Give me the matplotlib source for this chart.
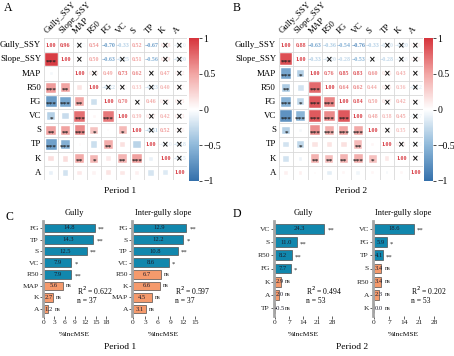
import numpy as np
import matplotlib
matplotlib.use("Agg")
import matplotlib.pyplot as plt
from matplotlib.colors import LinearSegmentedColormap, Normalize
from matplotlib.patches import Rectangle
import matplotlib.cm as cm

plt.rcParams['font.family'] = ['Liberation Serif', 'DejaVu Sans']

W, H = 454, 356

variables = ["Gully_SSY", "Slope_SSY", "MAP", "R50", "FG", "VC", "S", "TP", "K", "A"]

# lower triangle of the correlation matrices, row by row
r_p1 = [
    [0.96],
    [-0.05, 0.02],
    [0.54, 0.50, 0.15],
    [-0.70, -0.63, 0.49, -0.22],
    [-0.33, -0.25, 0.73, 0.05, 0.70],
    [0.52, 0.51, 0.62, 0.33, 0.03, 0.39],
    [-0.67, -0.56, 0.03, -0.23, 0.46, 0.17, -0.31],
    [0.18, 0.19, 0.47, 0.40, 0.12, 0.42, 0.52, -0.10],
    [-0.10, -0.20, 0.12, 0.07, 0.15, 0.13, 0.08, -0.18, -0.15],
]
sig_p1 = [
    ["***"],
    ["", ""],
    ["***", "**", ""],
    ["***", "***", "**", ""],
    ["*", "", "***", "", "***"],
    ["**", "**", "***", "*", "", "*"],
    ["***", "***", "", "", "**", "", ""],
    ["", "", "**", "*", "", "**", "***", ""],
    ["", "", "", "", "", "", "", "", ""],
]

r_p2 = [
    [0.88],
    [-0.63, -0.33],
    [-0.36, -0.20, 0.76],
    [-0.54, -0.28, 0.85, 0.64],
    [-0.76, -0.53, 0.83, 0.62, 0.84],
    [-0.33, -0.05, 0.60, 0.44, 0.50, 0.48],
    [-0.20, -0.28, 0.15, 0.15, 0.17, 0.38, 0.05],
    [-0.20, -0.08, 0.43, 0.36, 0.42, 0.45, 0.35, 0.13],
    [0.08, 0.08, 0.03, -0.12, 0.05, -0.07, 0.05, -0.05, 0.05],
]
sig_p2 = [
    ["***"],
    ["***", "*"],
    ["**", "", "***"],
    ["***", "*", "***", "***"],
    ["***", "***", "***", "***", "***"],
    ["*", "", "***", "***", "***", "***"],
    ["", "*", "", "", "", "**", ""],
    ["", "", "**", "**", "**", "***", "*", ""],
    ["", "", "", "", "", "", "", "", ""],
]

# random forest importance (%IncMSE)
c_gully_names = ["FG", "TP", "S", "VC", "R50", "MAP", "K", "A"]
c_gully_vals = [14.8, 14.3, 12.5, 7.9, 7.9, 5.6, 2.7, 1.2]
c_gully_sig = ["**", "**", "**", "*", "**", "ns", "ns", "ns"]

c_slope_names = ["FG", "S", "TP", "VC", "R50", "K", "MAP", "A"]
c_slope_vals = [12.9, 12.2, 10.8, 8.6, 6.7, 6.6, 4.5, 3.1]
c_slope_sig = ["**", "*", "**", "*", "ns", "ns", "ns", "ns"]

d_gully_names = ["VC", "S", "R50", "FG", "K", "A", "TP"]
d_gully_vals = [24.3, 11.0, 8.2, 7.7, 2.9, 2.0, -0.5]
d_gully_sig = ["**", "**", "**", "*", "ns", "ns", "ns"]

d_slope_names = ["VC", "FG", "TP", "S", "R50", "A", "K"]
d_slope_vals = [18.6, 5.9, 4.1, 3.4, 3.4, 2.3, 0.0]
d_slope_sig = ["**", "*", "**", "ns", "ns", "ns", "ns"]

r2_vals = ["0.622", "0.597", "0.494", "0.202"]
n_vals = [37, 37, 53, 53]

cmap = LinearSegmentedColormap.from_list(
    "rb", ["#3470ab", "#8fb9da", "#ffffff", "#f2a6a4", "#d6343c"])
norm = Normalize(-1, 1)
blue = "#1187ad"
orange = "#f59a6c"

fig = plt.figure(figsize=(W / 100, H / 100), dpi=100)


def px(l, t, r, b):
    return [l / W, 1 - b / H, (r - l) / W, (b - t) / H]


def corr_panel(box, cbox, low, sig):
    ax = fig.add_axes(px(*box))
    n = len(variables)
    R = np.eye(n)
    S = [[""] * n for _ in range(n)]
    for i in range(1, n):
        for j in range(i):
            R[i, j] = R[j, i] = low[i - 1][j]
            S[i][j] = S[j][i] = sig[i - 1][j]
    ax.set_xlim(0, n)
    ax.set_ylim(n, 0)
    for k in range(n + 1):
        ax.axhline(k, color="#d9d9d9", lw=0.6, zorder=0)
        ax.axvline(k, color="#d9d9d9", lw=0.6, zorder=0)
    for i in range(n):
        for j in range(n):
            r = R[i, j]
            c = cmap(norm(r))
            if i > j:
                s = np.sqrt(abs(r)) * 0.92
                ax.add_patch(Rectangle((j + 0.5 - s / 2, i + 0.5 - s / 2), s, s,
                                       fc=c, ec="white", lw=0.3, zorder=2))
                if S[i][j]:
                    ax.text(j + 0.5, i + 0.68, S[i][j], ha="center", va="center",
                            fontsize=5.2, fontweight="bold", color="#222222", zorder=3)
            else:
                ax.text(j + 0.5, i + 0.5, f"{r:.2f}".replace("-", "\u2212"), ha="center",
                        va="center", fontsize=4.3, fontweight="bold", color=c, zorder=3)
                if i != j and not S[i][j]:
                    ax.text(j + 0.5, i + 0.52, "\u00d7", ha="center", va="center",
                            fontsize=5.8, fontweight="bold", family="DejaVu Sans",
                            color="#111111", zorder=4)
    for k, name in enumerate(variables):
        ax.text(-0.2, k + 0.5, name, ha="right", va="center", fontsize=6.4)
        ax.text(k + 0.35, -0.2, name, ha="left", va="bottom", rotation=45,
                rotation_mode="anchor", fontsize=6.4)
    ax.set_xticks([])
    ax.set_yticks([])
    for sp in ax.spines.values():
        sp.set_visible(False)

    cax = fig.add_axes(px(*cbox))
    cb = fig.colorbar(cm.ScalarMappable(norm=norm, cmap=cmap), cax=cax,
                      ticks=[-1, -0.5, 0, 0.5, 1])
    cb.outline.set_visible(False)
    cb.ax.set_yticklabels(["\u22121", "\u22120.5", "0", "0.5", "1"])
    cb.ax.tick_params(labelsize=7, length=2, width=0.5, pad=1)


def bar_panel(box, names, vals, sig, xmax, step, title, r2, n, tx):
    ax = fig.add_axes(px(*box))
    m = len(names)
    y = np.arange(m)[::-1]
    colors = [orange if s == "ns" else blue for s in sig]
    ax.barh(y, vals, height=0.74, color=colors, edgecolor="#505050", linewidth=0.5)
    ax.set_xlim(-0.015 * xmax, xmax)
    ax.set_ylim(-0.6, m - 0.4)
    for yy, v, s in zip(y, vals, sig):
        cx = max(v / 2, 0.08 * xmax)
        ax.text(cx, yy, f"{v:.1f}", ha="center", va="center", fontsize=4.7,
                color="#1b1b2b")
        sx = max(v, cx + 0.05 * xmax) + 0.05 * xmax
        ax.text(sx, yy - (0.12 if s != "ns" else 0), s, ha="left", va="center",
                fontsize=4.8, color="#222222")
    ax.text(tx, 0.27, "R$^2$ = " + r2, transform=ax.transAxes, fontsize=5.5,
            ha="left", va="center")
    ax.text(tx, 0.16, f"n = {n}", transform=ax.transAxes, fontsize=5.5,
            ha="left", va="center")
    ax.set_xticks(np.arange(0, xmax + 0.1, step))
    ax.set_yticks(y)
    ax.set_yticklabels(names)
    ax.tick_params(labelsize=5.4, length=2, width=0.5, pad=1, colors="#222222")
    ax.set_title(title, fontsize=6, pad=4)
    ax.set_xlabel("%IncMSE", fontsize=5.4, labelpad=5)
    for k in ["top", "right", "bottom"]:
        ax.spines[k].set_visible(False)
    ax.spines["left"].set_color("#a6a6a6")
    ax.spines["left"].set_linewidth(2)


corr_panel((44, 38, 187, 180), (189, 38, 199, 181), r_p1, sig_p1)
corr_panel((279, 38, 423, 180), (424, 38, 433, 181), r_p2, sig_p2)

bar_panel((43, 221, 106, 316), c_gully_names, c_gully_vals, c_gully_sig, 18, 3,
          "Gully", r2_vals[0], n_vals[0], 0.54)
bar_panel((132, 221, 195, 316), c_slope_names, c_slope_vals, c_slope_sig, 15, 3,
          "Inter-gully slope", r2_vals[1], n_vals[1], 0.68)
bar_panel((274, 221, 332, 316), d_gully_names, d_gully_vals, d_gully_sig, 28, 7,
          "Gully", r2_vals[2], n_vals[2], 0.56)
bar_panel((373, 221, 434, 316), d_slope_names, d_slope_vals, d_slope_sig, 28, 7,
          "Inter-gully slope", r2_vals[3], n_vals[3], 0.62)

fig.text(4 / W, 1 - 8 / H, "A", fontsize=8.5, va="center", ha="left")
fig.text(233 / W, 1 - 8 / H, "B", fontsize=8.5, va="center", ha="left")
fig.text(5 / W, 1 - 217 / H, "C", fontsize=8.5, va="center", ha="left")
fig.text(233 / W, 1 - 214 / H, "D", fontsize=8.5, va="center", ha="left")
fig.text(120 / W, 1 - 191 / H, "Period 1", fontsize=6.8, ha="center", va="center")
fig.text(351 / W, 1 - 191 / H, "Period 2", fontsize=6.8, ha="center", va="center")
fig.text(120 / W, 1 - 347 / H, "Period 1", fontsize=6.8, ha="center", va="center")
fig.text(352 / W, 1 - 347 / H, "Period 2", fontsize=6.8, ha="center", va="center")

fig.savefig("out.png", dpi=100)
